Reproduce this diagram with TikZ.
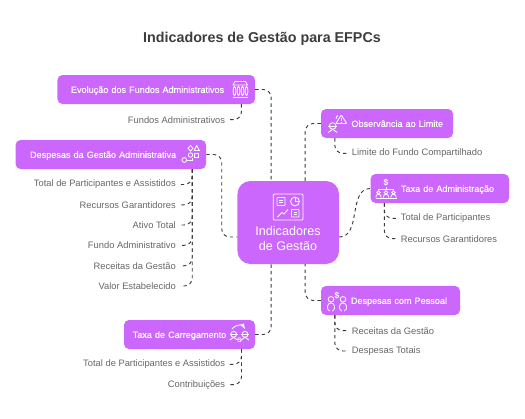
\documentclass[tikz,border=0pt]{standalone}
\usepackage{fontspec}
\setmainfont{Liberation Sans}
\newfontfamily\boxfont[FakeBold=0.3]{Liberation Sans}
\usepackage{xcolor}
\usepackage{tikz}
\usetikzlibrary{calc,positioning}
\definecolor{boxc}{HTML}{CB67FC}
\definecolor{leafc}{HTML}{666666}
\definecolor{linkc}{HTML}{3A3A3A}
\definecolor{titlec}{HTML}{3D3D3D}
\tikzset{
  box/.style={fill=boxc,rounded corners=5pt,text=white,font=\boxfont\fontsize{9.1}{12}\selectfont,minimum height=29pt,inner xsep=0pt,inner ysep=0pt,text height=7pt,text depth=0.2pt,text width=#1},
  hubbox/.style={fill=boxc,rounded corners=13pt,minimum width=101.5pt,minimum height=83pt},
  hubtxt/.style={text=white,font=\fontsize{12.6}{14}\selectfont,align=center,inner sep=0pt},
  leaf/.style={text=leafc,font=\fontsize{9.35}{12}\selectfont,inner sep=0pt,yshift=-1pt},
  link/.style={draw=linkc,line width=0.95pt,dash pattern=on 3.4pt off 3.2pt,rounded corners=8pt},
  ic/.style={draw=white,line width=0.85pt,fill=none},
  dollar/.style={text=white,font=\bfseries\fontsize{8.5}{8}\selectfont,inner sep=0pt},
  person/.pic={\draw[ic] (0,-2.6) circle (2.3);\draw[ic] (-3.4,4.2) -- (-3.4,2.6) arc (180:360:3.4 and 2.8) -- (3.4,4.2);},
  payee/.pic={\draw[ic] (0,-4.2) circle (2.8);\draw[ic] (-1.4,7.5) .. controls (-5,6) and (-4,-0.6) .. (0,-0.6) .. controls (4,-0.6) and (5,6) .. (1.4,7.5);},
  rater/.pic={\draw[ic] (0,0) circle (3.3);\draw[ic] (-4.4,0) -- (4.4,0);\draw[ic] (-4.5,6.5) -- (0,3.3) -- (4.5,6.5);}
}
\begin{document}
\begin{tikzpicture}[x=1pt,y=-1pt]
\useasboundingbox (0,0) rectangle (525,418);
\node[text=titlec,font=\bfseries\fontsize{14.3}{16}\selectfont,inner sep=0pt] (title) at (262,38.5) {Indicadores de Gestão para EFPCs};

\node[hubbox] (hub) at (288.2,222.5) {};
\node[hubtxt] (hubtxt) at (288,238.5) {Indicadores\\[0.5pt]de Gestão};

\node[box=197.5pt,align=left] (evol) at (156.2,89.5) {\hspace*{13.5pt}Evolução dos Fundos Administrativos};
\node[box=190.5pt,align=left] (gest) at (110.8,154.5) {\hspace*{14.5pt}Despesas da Gestão Administrativa};
\node[box=131pt,align=left] (carr) at (189.5,334.5) {\hspace*{8.7pt}Taxa de Carregamento};
\node[box=132pt,align=right] (obsv) at (387,123.5) {Observância ao Limite\hspace*{10pt}};
\node[box=138.5pt,align=right] (admn) at (439.8,188.5) {Taxa de Administração\hspace*{15pt}};
\node[box=139pt,align=right] (pess) at (390.5,300.5) {Despesas com Pessoal\hspace*{13pt}};

\node[leaf,anchor=east] (evol1) at (225.3,118.7) {Fundos Administrativos};
\foreach \n/\y/\t in {1/183.5/Total de Participantes e Assistidos,2/203.8/Recursos Garantidores,3/224/Ativo Total,4/244.3/Fundo Administrativo,5/264.8/Receitas da Gestão,6/285/Valor Estabelecido}{
  \node[leaf,anchor=east] (gest\n) at (176,\y) {\t};
}
\node[leaf,anchor=east] (carr1) at (225.3,363.3) {Total de Participantes e Assistidos};
\node[leaf,anchor=east] (carr2) at (225.3,383.7) {Contribuições};
\node[leaf,anchor=west] (obsv1) at (351.7,152.3) {Limite do Fundo Compartilhado};
\node[leaf,anchor=west] (admn1) at (400.7,217.3) {Total de Participantes};
\node[leaf,anchor=west] (admn2) at (400.7,237.7) {Recursos Garantidores};
\node[leaf,anchor=west] (pess1) at (351.7,329.7) {Receitas da Gestão};
\node[leaf,anchor=west] (pess2) at (351.7,350) {Despesas Totais};

\draw[link] (evol.east) -| ([xshift=-17pt]hub.north);
\draw[link] (gest.east) -- ++(15.5,0) |- ([yshift=-14.5pt]hub.west);
\draw[link] (carr.east) -| ([xshift=-17pt]hub.south);
\draw[link] (obsv.west) -| ([xshift=17pt]hub.north);
\draw[link] (pess.west) -| ([xshift=17pt]hub.south);
\draw[link] ([yshift=-14.5pt]hub.east) to[out=0,in=180] (admn.west);

\draw[link] ([xshift=-13.7pt]evol.south east) |- ([xshift=4pt]evol1.east);
\foreach \n in {1,...,6}{\draw[link] ([xshift=-14pt]gest.south east) |- ([xshift=4pt]gest\n.east);}
\foreach \n in {1,2}{\draw[link] ([xshift=-13.7pt]carr.south east) |- ([xshift=4pt]carr\n.east);}
\draw[link] ([xshift=14pt]obsv.south west) |- ([xshift=-4pt]obsv1.west);
\foreach \n in {1,2}{\draw[link] ([xshift=14pt]admn.south west) |- ([xshift=-4pt]admn\n.west);}
\foreach \n in {1,2}{\draw[link] ([xshift=14pt]pess.south west) |- ([xshift=-4pt]pess\n.west);}

\draw[ic] (233,85) -- (235,81.5) -- (245.5,81.5) -- (247.5,85) -- cycle;
\draw[ic] (232.5,97.5) -- (248,97.5);
\foreach \c in {234.5,238.5,242.5,246.5}{\draw[ic] (\c,91) ellipse (1.4 and 4.6);}

\draw[ic] (190.5,145.5) -- (193,148.3) -- (190.5,151) -- (188,148.3) -- cycle;
\draw[ic] (196.7,145.5) -- (199.3,150.5) -- (194.2,150.5) -- cycle;
\draw[ic] (190.5,155) circle (2.2);
\draw[ic] (194.8,153.2) rectangle (198.8,157.2);
\draw[ic] (184.3,160) circle (2.4);
\draw[ic] (186.7,160) -- (192,160) -- (192,157.8);

\draw[ic,rounded corners=1pt] (273.3,194) rectangle (303,220);
\draw[ic,rounded corners=0.6pt] (277,197.5) rectangle (285,205.5);
\draw[ic] (279,200) -- (283,200) (279,202.5) -- (283,202.5);
\draw[ic] (295,201.5) circle (4.4);
\draw[ic] (295,197.1) -- (295,201.5) -- (299.4,201.5);
\draw[ic] (277.5,217) -- (282,212.5) -- (284,214) -- (288,209.5);
\draw[ic,rounded corners=0.6pt] (291.5,209.5) rectangle (299,217);
\draw[ic] (293.5,212) -- (297,212) (293.5,214.5) -- (297,214.5);

\draw[ic,rounded corners=0.8pt] (341.3,115) -- (346.8,123.5) -- (335.8,123.5) -- cycle;
\draw[ic] (341.3,118) -- (341.3,120.7) (341.3,121.6) -- (341.3,122.3);
\pic at (332.7,126) {rater};
\draw[ic] (336,119) arc (0:60:-4);

\node[dollar] (admnd) at (386,182.5) {\$};
\draw[ic] (386,187) -- (386,189) (378.5,189) -- (393.5,189) (378.5,189) -- (378.5,190) (393.5,189) -- (393.5,190);
\foreach \c in {378.5,386,393.5}{\pic[scale=0.75] at (\c,194.5) {person};}
\draw[ic] (375.5,198.8) -- (396.5,198.8);

\node[dollar] (pessd) at (337,296) {\$};
\foreach \c in {331,343}{\pic at (\c,303.5) {payee};}

\foreach \c in {233.7,245}{\pic[scale=0.9] at (\c,334.3) {rater};}
\draw[ic,-latex] (232,329) to[out=60,in=120] (245,329);
\node[dollar,font=\bfseries\fontsize{6.5}{6}\selectfont] (carrd) at (239.5,340.5) {S};
\end{tikzpicture}
\end{document}
